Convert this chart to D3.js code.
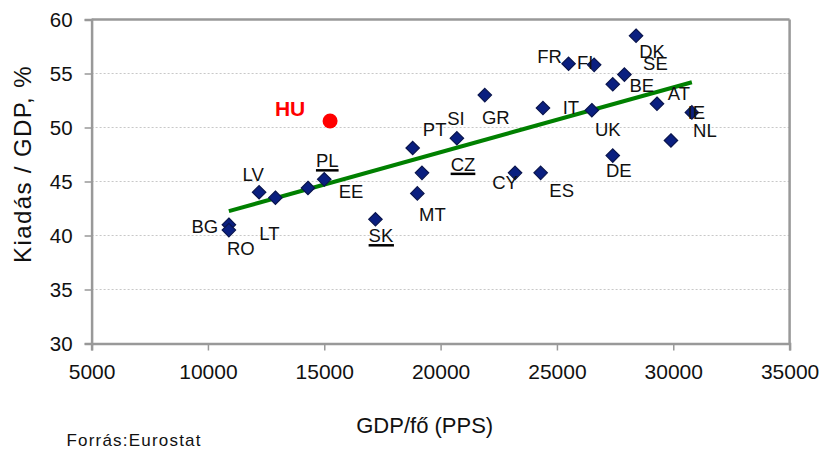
<!DOCTYPE html>
<html><head><meta charset="utf-8">
<script src="https://cdn.jsdelivr.net/npm/d3@7"></script>
<style>
body{margin:0;background:#fff;}
text{font-family:"Liberation Sans",Arial,sans-serif;}
</style></head>
<body><svg id="c" width="823" height="450"></svg>
<script>
const countries = ["BG","RO","LV","LT","EE","PL","SK","MT","PT","CZ","SI","GR","CY","ES","IT","UK","FR","FI","DE","BE","SE","DK","AT","NL","IE"];
const gdpPerCapita = [10900,10900,12200,12900,14300,15000,17200,19000,18800,19200,20700,21900,23200,24300,24400,26500,25500,26600,27400,27400,27900,28400,29300,29900,30800];
const spendingShare = [41.0,40.5,44.0,43.5,44.4,45.2,41.5,43.9,48.1,45.8,49.0,53.0,45.8,45.8,51.8,51.6,55.9,55.8,47.4,54.0,54.9,58.5,52.2,48.8,51.4];
const underlined = ["PL","SK","CZ"];
const huLabel = "HU";
const huGdp = [15250];
const huSpend = [50.6];
const xTicks = [5000,10000,15000,20000,25000,30000,35000];
const yTicks = [30,35,40,45,50,55,60];

// label placement (layout only): offset of label centre from its marker
const labelOffset = {
  BG:[-24,2], RO:[12,18], LV:[-6,-18], LT:[-6,36], EE:[43,3], PL:[3,-19],
  SK:[5.5,16], MT:[15,21], PT:[22,-19], CZ:[41,-9], SI:[-1,-20], GR:[11,22],
  CY:[-10,9], ES:[21,17], IT:[28,-1], UK:[16,19], FR:[-19,-7], FI:[-9,-3],
  DE:[6,15], BE:[29,1.5], SE:[31,-11], DK:[16,16], AT:[22,-10], NL:[34,-10], IE:[4.5,0]
};

const svg = d3.select("#c");
const x = d3.scaleLinear().domain([5000,35000]).range([91.6,789.6]);
const y = d3.scaleLinear().domain([30,60]).range([343.5,19.5]);
const axisColor = "#999";

// gridlines
svg.append("g").selectAll("line").data(yTicks.filter(v=>v>30&&v<60)).join("line")
  .attr("x1",x(5000)).attr("x2",x(35000)).attr("y1",d=>y(d)).attr("y2",d=>y(d))
  .attr("stroke","#c8c8c8").attr("stroke-width",1).attr("stroke-dasharray","2,2");

// frame top/right
svg.append("line").attr("x1",x(5000)).attr("x2",x(35000)).attr("y1",y(60)).attr("y2",y(60)).attr("stroke",axisColor).attr("stroke-width",2.5);
svg.append("line").attr("x1",x(35000)).attr("x2",x(35000)).attr("y1",y(60)).attr("y2",y(30)).attr("stroke",axisColor).attr("stroke-width",2.5);

// axes
const xAxis = svg.append("g").attr("transform",`translate(0,${y(30)})`)
  .call(d3.axisBottom(x).tickValues(xTicks).tickFormat(d3.format("d")).tickSize(7).tickPadding(14));
const yAxis = svg.append("g").attr("transform",`translate(${x(5000)},0)`)
  .call(d3.axisLeft(y).tickValues(yTicks).tickSize(7).tickPadding(12));
[xAxis,yAxis].forEach(g=>{
  g.select(".domain").attr("stroke",axisColor).attr("stroke-width",2.5);
  g.selectAll(".tick line").attr("stroke",axisColor).attr("stroke-width",1.5);
  g.selectAll(".tick text").attr("fill","#111").style("font-family","Liberation Sans, Arial, sans-serif");
});
xAxis.selectAll(".tick text").style("font-size","21px");
yAxis.selectAll(".tick text").style("font-size","20.5px").attr("dy","0.36em");

// trend line (least squares through all points incl. HU)
const allX = gdpPerCapita.concat(huGdp), allY = spendingShare.concat(huSpend);
const mx = d3.mean(allX), my = d3.mean(allY);
const slope = d3.sum(allX,(v,i)=>(v-mx)*(allY[i]-my)) / d3.sum(allX,v=>(v-mx)*(v-mx));
const x0 = d3.min(gdpPerCapita), x1 = d3.max(gdpPerCapita);
svg.append("line")
  .attr("x1",x(x0)).attr("y1",y(my+slope*(x0-mx)))
  .attr("x2",x(x1)).attr("y2",y(my+slope*(x1-mx)))
  .attr("stroke","#008000").attr("stroke-width",4);

// points
const pts = countries.map((c,i)=>({c, gx:gdpPerCapita[i], s:spendingShare[i]}));
svg.append("g").selectAll("path").data(pts).join("path")
  .attr("d", d3.symbol(d3.symbolDiamond2 ? d3.symbolDiamond2 : d3.symbolDiamond, 115)())
  .attr("transform",d=>`translate(${x(d.gx)},${y(d.s)})`)
  .attr("fill","#0a1f80").attr("stroke","#0a154d").attr("stroke-width",1.2);

// labels
const lg = svg.append("g");
pts.forEach(d=>{
  const o = labelOffset[d.c];
  const t = lg.append("text").text(d.c)
    .attr("x",x(d.gx)+o[0]).attr("y",y(d.s)+o[1])
    .attr("text-anchor","middle").attr("dy","0.36em")
    .style("font-size","18.5px").attr("fill","#111");
  if (underlined.includes(d.c)) {
    const b = t.node().getBBox();
    lg.append("line").attr("x1",b.x).attr("x2",b.x+b.width)
      .attr("y1",y(d.s)+o[1]+10).attr("y2",y(d.s)+o[1]+10)
      .attr("stroke","#000").attr("stroke-width",2.5);
  }
});

// HU
svg.append("circle").attr("cx",x(huGdp[0])).attr("cy",y(huSpend[0])).attr("r",7.5).attr("fill","#ff0000");
svg.append("text").text(huLabel).attr("x",x(huGdp[0])-40).attr("y",y(huSpend[0])-12.5)
  .attr("text-anchor","middle").attr("dy","0.36em")
  .style("font-size","21px").style("font-weight","bold").attr("fill","#ff0000");

// titles
svg.append("text").text("Kiadás / GDP, %")
  .attr("transform","translate(31,164) rotate(-90)").attr("text-anchor","middle")
  .style("font-size","24px").style("letter-spacing","1.4px").attr("fill","#111");
svg.append("text").text("GDP/fő (PPS)").attr("x",424.7).attr("y",433)
  .attr("text-anchor","middle").style("font-size","22px").attr("fill","#111");
svg.append("text").text("Forrás:Eurostat").attr("x",66.5).attr("y",446)
  .style("font-size","17px").style("letter-spacing","1.2px").attr("fill","#111");
</script></body></html>
